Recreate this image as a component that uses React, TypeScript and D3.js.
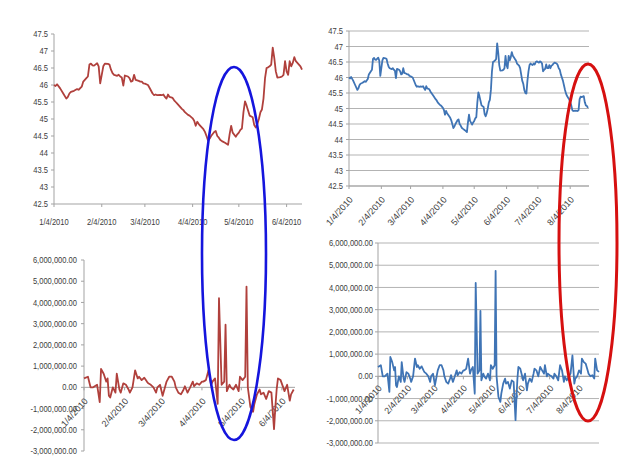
import * as d3 from "d3";

// Day offsets are counted from 1/4/2010
const BASE = new Date(2010, 0, 4);

const priceDays = [
  0, 1, 2, 4, 6, 8, 9, 10, 11, 13, 15, 16, 18, 19, 21, 22, 23, 24, 25, 26, 28, 29, 30, 32, 33, 35, 36, 37,
  38, 39, 41, 42, 43, 44, 45, 46, 48, 49, 50, 51, 52, 53, 55, 56, 57, 58, 59, 61, 62, 64, 65, 66, 67, 69,
  70, 71, 72, 73, 74, 75, 77, 78, 79, 80, 81, 83, 84, 85, 87, 88, 90, 91, 92, 93, 94, 95, 97, 98, 99, 100,
  101, 102, 104, 105, 106, 107, 108, 109, 111, 112, 113, 114, 115, 116, 118, 119, 120, 121, 122, 123, 124,
  125, 126, 127, 129, 130, 131, 132, 133, 134, 135, 136, 137, 138, 139, 140, 141, 142, 143, 144, 145, 147,
  148, 149, 150, 151, 152, 153, 154, 155, 156, 157, 158, 159, 160, 161, 163, 164, 165, 166, 167, 168, 169,
  170, 171, 172, 173, 174, 175, 176, 177, 178, 179, 180, 181, 182, 183, 184, 185, 186, 187, 188, 189, 190,
  191, 192, 193, 194, 195, 196, 197, 199, 200, 201, 202, 203, 204, 205, 206, 207, 208, 209, 210, 211, 212,
  213, 214, 215, 217, 219, 220, 221, 222, 223, 224, 225, 226, 227, 228, 229,
];
const priceValues = [
  46.0, 45.97, 46.02, 45.9, 45.75, 45.6, 45.65, 45.75, 45.8, 45.83, 45.88, 45.86, 45.95, 46.1, 46.2, 46.25,
  46.6, 46.63, 46.58, 46.57, 46.64, 46.55, 46.05, 46.55, 46.63, 46.62, 46.6, 46.45, 46.35, 46.3, 46.27,
  46.3, 46.25, 46.22, 45.98, 46.28, 46.25, 46.2, 46.1, 46.12, 46.3, 46.15, 46.12, 46.1, 46.1, 46.05, 46.04,
  46.0, 45.92, 45.75, 45.7, 45.72, 45.7, 45.71, 45.7, 45.72, 45.65, 45.6, 45.72, 45.65, 45.62, 45.55, 45.5,
  45.45, 45.4, 45.3, 45.26, 45.2, 45.12, 45.1, 45.02, 44.95, 44.8, 44.92, 44.85, 44.8, 44.7, 44.62, 44.5,
  44.37, 44.42, 44.5, 44.62, 44.65, 44.5, 44.45, 44.38, 44.35, 44.3, 44.27, 44.24, 44.55, 44.8, 44.6, 44.48,
  44.55, 44.6, 44.68, 44.72, 45.2, 45.52, 45.4, 45.25, 45.1, 45.05, 44.82, 44.75, 44.85, 45.0, 45.2, 45.28,
  45.6, 46.2, 46.5, 46.52, 46.55, 46.6, 47.1, 46.8, 46.4, 46.22, 46.23, 46.25, 46.3, 46.7, 46.4, 46.3, 46.7,
  46.55, 46.65, 46.82, 46.7, 46.65, 46.6, 46.55, 46.45, 46.38, 46.3, 46.1, 45.9, 45.8, 45.6, 45.5, 45.48,
  45.9, 46.2, 46.4, 46.45, 46.42, 46.4, 46.45, 46.42, 46.5, 46.52, 46.5, 46.48, 46.52, 46.5, 46.45, 46.2,
  46.25, 46.28, 46.42, 46.3, 46.3, 46.4, 46.3, 46.38, 46.4, 46.45, 46.48, 46.45, 46.4, 46.3, 46.25, 46.1,
  46.0, 45.9, 45.75, 45.6, 45.48, 45.4, 45.35, 45.3, 45.2, 45.1, 44.95, 44.92, 44.93, 44.92, 44.95, 45.3,
  45.38, 45.37, 45.38, 45.4, 45.2, 45.1, 45.08, 45.02,
];

// net flow, in millions
const flowDays = [
  0, 3, 5, 7, 10, 12, 13, 15, 17, 18, 19, 20, 22, 24, 25, 27, 28, 30, 32, 34, 35, 37, 39, 41, 42, 44, 46,
  48, 49, 51, 53, 55, 56, 58, 60, 63, 65, 67, 69, 70, 72, 74, 76, 77, 79, 81, 83, 84, 86, 88, 90, 91, 93,
  95, 97, 98, 100, 102, 103, 105, 107, 108, 109, 111, 112, 114, 116, 118, 119, 121, 123, 124, 125, 127,
  129, 130, 132, 134, 135, 137, 139, 141, 143, 145, 146, 147, 148, 150, 152, 153, 155, 157, 158, 160,
  162, 164, 165, 167, 169, 171, 173, 175, 176, 178, 179, 181, 183, 185, 186, 188, 190, 192, 194, 196, 197,
  199, 200, 203, 205, 207, 208, 210, 212, 214, 215, 217, 219, 221, 222, 224, 226, 228, 229, 231, 233,
];
const flowValues = [
  0.42, 0.5, 0.0, 0.0, 0.12, -0.7, 0.87, 0.64, 0.27, 0.42, -0.4, -0.48, 0.0, -0.25, 0.64, -0.1, -0.25,
  0.19, 0.12, -0.1, -0.25, 0.0, 0.8, 0.42, 0.5, 0.34, 0.45, 0.27, 0.19, 0.12, 0.0, -0.25, 0.0, 0.12, -0.4,
  0.27, 0.5, 0.5, 0.27, 0.0, -0.25, -0.33, -0.1, 0.05, -0.25, 0.0, 0.27, 0.05, 0.19, 0.12, 0.27, 0.27, 0.34,
  0.8, 0.12, 0.27, 0.42, -0.78, 4.2, 0.12, 0.27, 2.95, -0.18, 0.12, 0.0, -0.1, 0.12, -0.18, 0.5, 0.34, 0.5,
  4.75, 0.0, -0.93, -1.15, -0.78, -0.33, -0.1, -0.33, -0.25, -0.55, -0.18, -0.25, -1.97, -0.93, -0.1, 0.42,
  0.34, 0.0, -0.18, 0.12, -0.63, -0.33, -0.1, -0.25, 0.12, 0.34, 0.27, 0.0, 0.42, 0.27, 0.12, 0.5, 0.0,
  0.12, 0.05, 0.0, -0.1, 0.12, 0.0, -0.18, 0.5, 0.27, -0.25, 0.0, -0.18, -0.1, 0.12, 0.94, -0.33, -0.1,
  0.0, 0.27, 0.12, 0.8, 0.64, 0.57, 0.27, 0.12, 0.0, 0.05, -0.1, 0.8, 0.27, 0.2,
];

const leftMonths = ["1/4/2010", "2/4/2010", "3/4/2010", "4/4/2010", "5/4/2010", "6/4/2010"];
const rightMonths = [...leftMonths, "7/4/2010", "8/4/2010"];
const priceTicks = [42.5, 43, 43.5, 44, 44.5, 45, 45.5, 46, 46.5, 47, 47.5];
const flowTicks = [-3, -2, -1, 0, 1, 2, 3, 4, 5, 6];

const FONT = "'Liberation Sans', Arial, sans-serif";
const TEXT = "#3c3c3c";
const AXIS = "#a3a3a3";
const GRID = "#b3b3b3";
const SQUEEZE = 0.84; // labels in the original are in a narrow face
const parseDate = d3.timeParse("%m/%d/%Y");
const fmtMoney = (v: number) => d3.format(",.2f")(v * 1e6).replace("\u2212", "-");

function Label({
  x, y, anchor, angle = 0, squeeze = SQUEEZE, text,
}: { x: number; y: number; anchor: string; angle?: number; squeeze?: number; text: string }) {
  return (
    <text
      transform={`translate(${x},${y}) rotate(${angle}) scale(${squeeze},1)`}
      textAnchor={anchor}
      dy="0.35em"
    >
      {text}
    </text>
  );
}

type PanelProps = {
  left: number;
  right: number;
  top: number;
  bottom: number;
  endDay: number;
  ticks: number[];
  fmt: (v: number) => string;
  grid: boolean;
  rotate: boolean;
  days: number[];
  values: number[];
  color: string;
  months: string[];
  labelGap: number;
  xLabelDrop: number;
};

function Panel(p: PanelProps) {
  const x = d3
    .scaleTime()
    .domain([BASE, d3.timeDay.offset(BASE, p.endDay)])
    .range([p.left, p.right]);
  const yMin = p.ticks[0];
  const yMax = p.ticks[p.ticks.length - 1];
  const y = d3.scaleLinear().domain([yMin, yMax]).range([p.bottom, p.top]);
  const pts = p.days
    .map((d, i) => ({ d, v: p.values[i] }))
    .filter((o) => o.d <= p.endDay);
  const line = d3
    .line<{ d: number; v: number }>()
    .x((o) => x(d3.timeDay.offset(BASE, o.d)))
    .y((o) => y(o.v));
  const axisY = yMin < 0 ? y(0) : p.bottom;

  return (
    <g fontFamily={FONT} fontSize={9} fill={TEXT}>
      {p.grid &&
        p.ticks.map((t) => (
          <line key={"g" + t} x1={p.left} x2={p.right} y1={y(t)} y2={y(t)} stroke={GRID} strokeWidth={1} />
        ))}
      <line x1={p.left} x2={p.left} y1={p.top} y2={p.bottom} stroke={AXIS} />
      <line x1={p.left} x2={p.right} y1={axisY} y2={axisY} stroke={AXIS} />
      {p.ticks.map((t) => (
        <g key={"y" + t}>
          <line x1={p.left - 3} x2={p.left} y1={y(t)} y2={y(t)} stroke={AXIS} />
          <Label x={p.left - p.labelGap} y={y(t)} anchor="end" text={p.fmt(t)} />
        </g>
      ))}
      {p.months.map((m) => {
        const tx = x(parseDate(m) as Date);
        return (
          <g key={m}>
            <line x1={tx} x2={tx} y1={axisY} y2={axisY + 3} stroke={AXIS} />
            {p.rotate ? (
              <Label x={tx + 2} y={axisY + p.xLabelDrop} anchor="end" angle={-48} squeeze={1} text={m} />
            ) : (
              <Label x={tx} y={axisY + p.xLabelDrop} anchor="middle" text={m} />
            )}
          </g>
        );
      })}
      <path d={line(pts) ?? ""} fill="none" stroke={p.color} strokeWidth={1.8} strokeLinejoin="round" />
    </g>
  );
}

export default function App() {
  const red = "#b0403c";
  const blue = "#3f74b5";
  return (
    <svg
      width={624}
      height={464}
      style={{ position: "absolute", left: 0, top: 0, background: "#fff" }}
    >
      <rect width={624} height={464} fill="#fff" />
      <Panel
        left={54} right={302} top={34} bottom={204} endDay={161}
        ticks={priceTicks} fmt={(v) => String(v)} grid={false} rotate={false}
        days={priceDays} values={priceValues} color={red} months={leftMonths}
        labelGap={6} xLabelDrop={18}
      />
      <Panel
        left={84} right={295} top={260} bottom={451} endDay={161}
        ticks={flowTicks} fmt={fmtMoney} grid={false} rotate={true}
        days={flowDays} values={flowValues} color={red} months={leftMonths}
        labelGap={7} xLabelDrop={12}
      />
      <Panel
        left={349} right={589} top={31} bottom={186} endDay={230}
        ticks={priceTicks} fmt={(v) => String(v)} grid={true} rotate={true}
        days={priceDays} values={priceValues} color={blue} months={rightMonths}
        labelGap={6} xLabelDrop={12}
      />
      <Panel
        left={378} right={599} top={243} bottom={443} endDay={233}
        ticks={flowTicks} fmt={fmtMoney} grid={true} rotate={true}
        days={flowDays} values={flowValues} color={blue} months={rightMonths}
        labelGap={5} xLabelDrop={10}
      />
      <ellipse cx={234} cy={253.5} rx={32} ry={186.5} fill="none" stroke="#1515dd" strokeWidth={2.6} />
      <ellipse cx={588} cy={242.5} rx={29} ry={178.5} fill="none" stroke="#d61010" strokeWidth={3} />
    </svg>
  );
}
